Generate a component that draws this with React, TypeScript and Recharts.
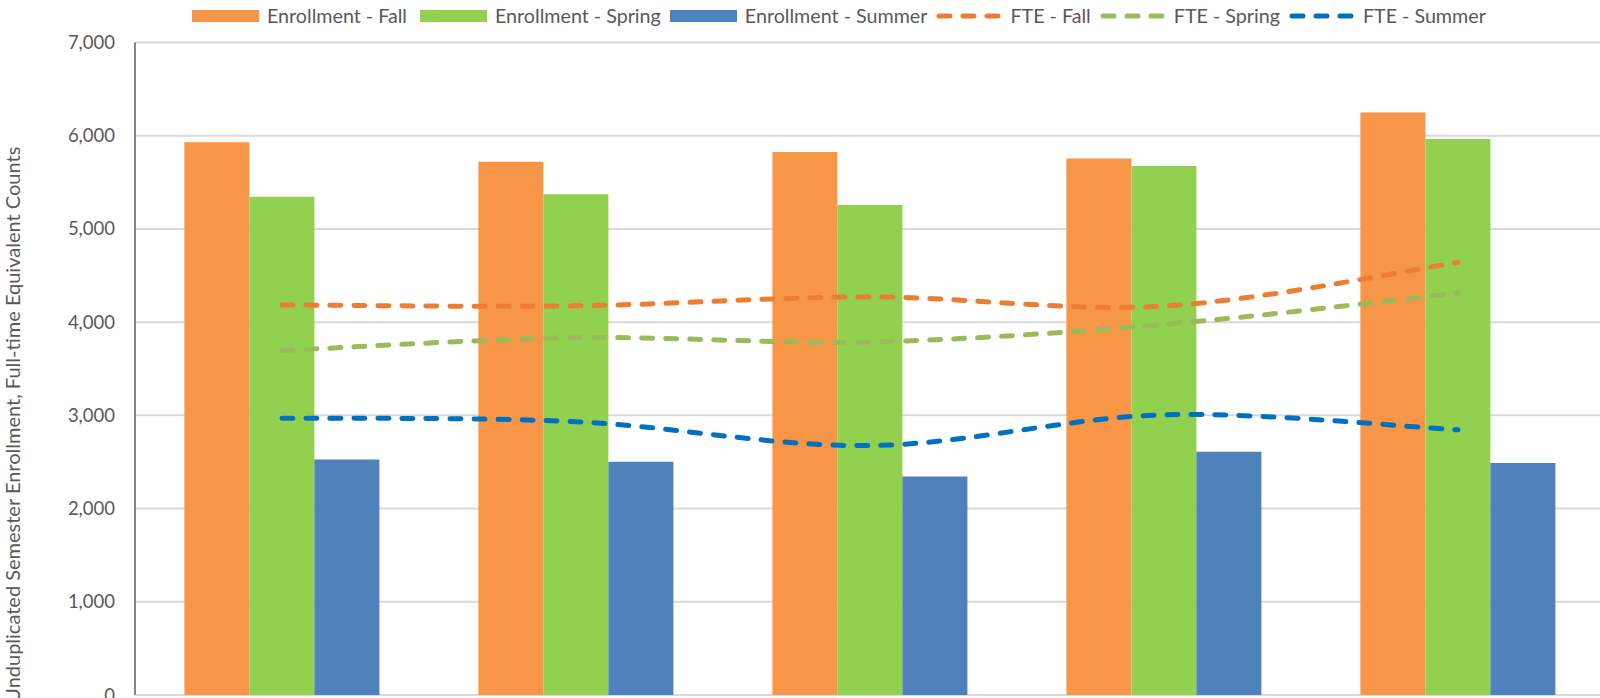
import React from 'react';
import { ComposedChart, Bar, Line, XAxis, YAxis, CartesianGrid, Legend } from 'recharts';

// ---- data ----
const categories = ['2015-16', '2016-17', '2017-18', '2018-19', '2019-20'];
const enrollmentFall = [5930, 5722, 5826, 5755, 6250];
const enrollmentSpring = [5345, 5372, 5257, 5676, 5965];
const enrollmentSummer = [2526, 2502, 2345, 2610, 2488];
const fteFall = [4185, 4175, 4270, 4172, 4640];
const fteSpring = [3695, 3833, 3788, 3976, 4312];
const fteSummer = [2970, 2932, 2676, 3006, 2845];
const yTicks = [0, 1000, 2000, 3000, 4000, 5000, 6000, 7000];
const boundaryTicks = [0, 1, 2, 3, 4, 5];

const data = categories.map((c, i) => ({
  category: c,
  enrFall: enrollmentFall[i],
  enrSpring: enrollmentSpring[i],
  enrSummer: enrollmentSummer[i],
  fteFall: fteFall[i],
  fteSpring: fteSpring[i],
  fteSummer: fteSummer[i],
}));

const barSeries = [
  { key: 'enrFall', name: 'Enrollment - Fall', color: '#F79646' },
  { key: 'enrSpring', name: 'Enrollment - Spring', color: '#92D050' },
  { key: 'enrSummer', name: 'Enrollment - Summer', color: '#4F81BD' },
];
const lineSeries = [
  { key: 'fteFall', name: 'FTE - Fall', color: '#ED7D31' },
  { key: 'fteSpring', name: 'FTE - Spring', color: '#9BBB59' },
  { key: 'fteSummer', name: 'FTE - Summer', color: '#0070C0' },
];

const TEXT = '#595959';
const FONT = 'Lato, "Open Sans", sans-serif';
const DASH = '11 13';

// Excel-like smoothed line (Catmull-Rom as cubic Bezier)
function excelSmooth(context: any) {
  let pts: number[][] = [];
  return {
    areaStart() {},
    areaEnd() {},
    lineStart() {
      pts = [];
    },
    point(x: number, y: number) {
      pts.push([+x, +y]);
    },
    lineEnd() {
      const n = pts.length;
      if (!n) return;
      context.moveTo(pts[0][0], pts[0][1]);
      for (let i = 0; i < n - 1; i++) {
        const p0 = pts[i - 1] || pts[i];
        const p1 = pts[i];
        const p2 = pts[i + 1];
        const p3 = pts[i + 2] || pts[i + 1];
        context.bezierCurveTo(
          p1[0] + (p2[0] - p0[0]) / 6,
          p1[1] + (p2[1] - p0[1]) / 6,
          p2[0] - (p3[0] - p1[0]) / 6,
          p2[1] - (p3[1] - p1[1]) / 6,
          p2[0],
          p2[1]
        );
      }
    },
  };
}

function renderLegend() {
  const items = [
    ...barSeries.map((s) => ({ ...s, kind: 'bar' })),
    ...lineSeries.map((s) => ({ ...s, kind: 'line' })),
  ];
  return (
    <div style={{ display: 'flex', alignItems: 'center', paddingLeft: 192, fontFamily: FONT, fontSize: 19.7, color: TEXT, height: 24 }}>
      {items.map((it, i) => (
        <div key={it.key} style={{ display: 'flex', alignItems: 'center', marginRight: i === 0 ? 13 : 9 }}>
          {it.kind === 'bar' ? (
            <div style={{ width: 67, height: 12, background: it.color }} />
          ) : (
            <svg width={66} height={12} style={{ display: 'block' }}>
              <line x1={3} y1={6} x2={63} y2={6} stroke={it.color} strokeWidth={5} strokeDasharray={DASH} strokeLinecap="round" />
            </svg>
          )}
          <span style={{ marginLeft: 8, whiteSpace: 'nowrap', lineHeight: '24px' }}>{it.name}</span>
        </div>
      ))}
    </div>
  );
}

function YLabel(props: any) {
  const vb = props.viewBox || { x: 0, y: 0, width: 0, height: 0 };
  const cx = vb.x + 12;
  const cy = vb.y + vb.height / 2 + 56;
  return (
    <text
      x={cx}
      y={cy}
      transform={`rotate(-90 ${cx} ${cy})`}
      textAnchor="middle"
      dominantBaseline="central"
      fill={TEXT}
      fontSize={20}
      fontFamily={FONT}
    >
      Unduplicated Semester Enrollment, Full-time Equivalent Counts
    </text>
  );
}

export default function App() {
  return (
    <div style={{ position: 'fixed', left: 0, top: 0, width: 1600, height: 698, overflow: 'hidden', background: '#fff', fontFamily: FONT }}>
      <ComposedChart
        width={1620}
        height={760}
        data={data}
        margin={{ top: 42.5, right: 15, bottom: 35, left: 0 }}
        barCategoryGap="16.8%"
        barGap={0}
      >
        <CartesianGrid vertical={false} stroke="#D9D9D9" strokeWidth={2} xAxisId="a" />
        <XAxis xAxisId="a" dataKey="category" type="category" hide />
        <XAxis
          xAxisId="b"
          type="number"
          domain={[0, 5]}
          ticks={boundaryTicks}
          allowDataOverflow
          tick={false}
          tickSize={6}
          height={30}
          axisLine={{ stroke: '#868686', strokeWidth: 2 }}
          tickLine={{ stroke: '#868686', strokeWidth: 1.5 }}
        />
        <YAxis
          width={135}
          domain={[0, 7000]}
          ticks={yTicks}
          interval={0}
          tickFormatter={(v: number) => v.toLocaleString('en-US')}
          axisLine={{ stroke: '#868686', strokeWidth: 2 }}
          tickLine={false}
          tickSize={0}
          tickMargin={20}
          tick={{ fill: TEXT, fontSize: 18.5, fontFamily: FONT }}
          label={<YLabel />}
        />
        <Legend layout="horizontal" verticalAlign="middle" align="center" wrapperStyle={{ top: 4, left: 0, width: 1600, height: 24 }} content={renderLegend} />
        {barSeries.map((s) => (
          <Bar key={s.key} xAxisId="a" dataKey={s.key} name={s.name} fill={s.color} isAnimationActive={false} />
        ))}
        {lineSeries.map((s) => (
          <Line
            key={s.key}
            xAxisId="a"
            dataKey={s.key}
            name={s.name}
            type={excelSmooth as any}
            stroke={s.color}
            strokeWidth={5}
            strokeDasharray={DASH}
            strokeLinecap="round"
            dot={false}
            activeDot={false}
            isAnimationActive={false}
          />
        ))}
      </ComposedChart>
    </div>
  );
}
